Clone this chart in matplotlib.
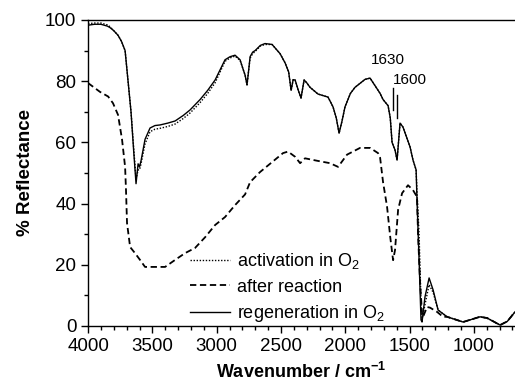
import matplotlib
matplotlib.use("Agg")
import matplotlib.pyplot as plt
from matplotlib.ticker import MultipleLocator

plt.rcParams['font.family'] = ['Liberation Sans', 'DejaVu Sans']
plt.rcParams['mathtext.fontset'] = 'custom'
plt.rcParams['mathtext.rm'] = 'Liberation Sans'
plt.rcParams['mathtext.bf'] = 'Liberation Sans:bold'
plt.rcParams['mathtext.default'] = 'regular'

# regeneration in O2 (solid)
regen_w = [4000, 3950, 3900, 3850, 3829, 3800, 3767, 3740, 3712, 3689, 3666, 3645, 3627, 3611,
           3600, 3588, 3557, 3518, 3480, 3440, 3380, 3323, 3260, 3207, 3129, 3070, 3012, 2970,
           2935, 2896, 2857, 2818, 2795, 2779, 2764, 2750, 2740, 2720, 2701, 2660, 2624, 2569,
           2507, 2468, 2440, 2421, 2405, 2390, 2365, 2344, 2320, 2300, 2274, 2212, 2134, 2095,
           2070, 2048, 2025, 2002, 1960, 1924, 1846, 1807, 1760, 1729, 1706, 1667, 1650, 1636,
           1613, 1597, 1574, 1551, 1496, 1473, 1449, 1442, 1426, 1411, 1403, 1380, 1348, 1317,
           1278, 1208, 1084, 952, 897, 796, 740, 680]
regen_r = [98.3, 98.6, 98.6, 98.0, 97.5, 96.5, 95.0, 93.0, 90.0, 80.0, 70.0, 57.0, 46.5, 53.0,
           52.0, 54.0, 61.0, 64.7, 65.5, 65.7, 66.3, 67.0, 68.8, 70.6, 74.0, 77.0, 80.4, 84.0,
           87.0, 88.0, 88.5, 87.0, 84.0, 82.0, 78.8, 84.0, 88.0, 89.5, 90.0, 91.7, 92.3, 92.0,
           89.0, 86.0, 83.0, 77.0, 80.5, 80.4, 77.0, 74.5, 80.4, 79.5, 78.0, 75.8, 74.8, 71.6,
           68.0, 63.0, 67.0, 71.6, 76.0, 78.0, 80.6, 81.0, 78.0, 76.0, 74.0, 72.0, 68.0, 60.0,
           57.5, 54.2, 66.3, 65.0, 58.5, 54.2, 51.0, 41.0, 21.6, 2.0, 1.3, 9.5, 15.7, 11.8,
           5.2, 3.0, 1.3, 3.0, 2.6, 0.3, 1.5, 4.6]

# activation in O2 (dotted)
act_w = regen_w
act_r = [98.8, 99.0, 99.0, 98.4, 97.8, 96.5, 95.0, 93.0, 90.0, 80.0, 70.0, 58.0, 48.0, 51.0,
         51.0, 53.0, 59.5, 63.5, 64.3, 64.6, 65.2, 66.0, 67.8, 69.6, 73.0, 76.0, 79.5, 83.3,
         86.5, 87.6, 88.2, 86.8, 84.0, 82.0, 78.8, 84.0, 87.5, 89.0, 89.7, 91.5, 92.0, 92.0,
         89.0, 86.0, 83.0, 77.0, 80.5, 80.4, 77.0, 74.5, 80.4, 79.5, 78.0, 75.8, 74.8, 71.6,
         68.0, 63.0, 67.0, 71.6, 76.0, 78.0, 80.6, 81.0, 78.0, 76.0, 74.0, 72.0, 68.0, 60.0,
         57.5, 54.2, 66.3, 65.0, 58.5, 54.2, 51.0, 44.0, 30.0, 8.0, 2.0, 7.0, 13.5, 11.0,
         5.2, 3.0, 1.3, 3.0, 2.6, 0.3, 1.5, 4.6]

# after reaction (dashed)
after_w = [4000, 3907, 3844, 3806, 3767, 3736, 3712, 3705, 3697, 3673, 3635, 3596, 3557, 3479,
           3401, 3323, 3246, 3168, 3090, 3012, 2935, 2857, 2779, 2740, 2663, 2585, 2484, 2445,
           2390, 2351, 2313, 2219, 2118, 2056, 1986, 1885, 1807, 1745, 1729, 1706, 1675, 1650,
           1628, 1613, 1589, 1558, 1512, 1473, 1442, 1434, 1418, 1403, 1395, 1364, 1341, 1286,
           1240, 1208, 1084, 952, 897, 796, 740, 680]
after_r = [79.4, 76.5, 75.0, 72.8, 69.0, 61.0, 52.0, 44.4, 33.6, 25.8, 23.8, 21.6, 19.3, 19.3,
           19.3, 21.6, 23.8, 25.5, 29.0, 33.0, 35.6, 39.5, 43.0, 47.0, 50.3, 53.0, 56.5, 57.0,
           55.3, 53.2, 54.8, 54.0, 53.2, 52.0, 56.0, 58.2, 58.2, 56.5, 55.0, 47.0, 39.0, 29.0,
           21.5, 24.8, 38.0, 43.4, 46.0, 44.4, 42.2, 30.0, 14.0, 4.2, 3.0, 6.2, 6.0, 4.6,
           3.0, 3.0, 1.3, 3.0, 2.6, 0.3, 1.5, 4.6]

labels = ['activation in O$_2$', 'after reaction', 'regeneration in O$_2$']
peak_labels = ['1630', '1600']
peak_w = [1630, 1600]
peak_line_top = [77.8, 75.5]
peak_line_bot = [70.6, 68.0]
peak_text_w = [1667, 1496]
peak_text_r = [87.0, 80.4]

fig = plt.figure(figsize=(5.15, 3.89), dpi=100)
ax = fig.add_axes([0.171, 0.162, 0.829, 0.7866])

l1, = ax.plot(act_w, act_r, color='black', lw=1.0, ls=(0, (1, 1.2)))
l2, = ax.plot(after_w, after_r, color='black', lw=1.3, ls=(0, (3.5, 2)))
l3, = ax.plot(regen_w, regen_r, color='black', lw=1.0, ls='-')

for w, t, b in zip(peak_w, peak_line_top, peak_line_bot):
    ax.plot([w, w], [b, t], color='black', lw=1.0)
for s, w, r in zip(peak_labels, peak_text_w, peak_text_r):
    ax.text(w, r, s, fontsize=11, ha='center', va='center')

ax.set_xlim(4000, 680)
ax.set_ylim(0, 100)
ax.xaxis.set_major_locator(MultipleLocator(500))
ax.xaxis.set_minor_locator(MultipleLocator(100))
ax.yaxis.set_major_locator(MultipleLocator(20))
ax.yaxis.set_minor_locator(MultipleLocator(10))
ax.tick_params(which='major', direction='out', length=5, width=1, labelsize=13.5)
ax.tick_params(which='minor', direction='out', length=3, width=1)
ax.spines['right'].set_visible(False)
for sp in ['left', 'bottom', 'top']:
    ax.spines[sp].set_linewidth(1.0)

ax.set_xlabel(r'Wavenumber / cm$^{\mathbf{-1}}$', fontsize=13, fontweight='bold', labelpad=5)
ax.set_ylabel('% Reflectance', fontsize=13.5, fontweight='bold', labelpad=8)

ax.legend([l1, l2, l3], labels, loc='upper left', bbox_to_anchor=(0.239, 0.245),
          frameon=False, fontsize=13, handlelength=2.2, handletextpad=0.4,
          labelspacing=0.42, borderpad=0, borderaxespad=0)

fig.savefig('out.png', dpi=100)
